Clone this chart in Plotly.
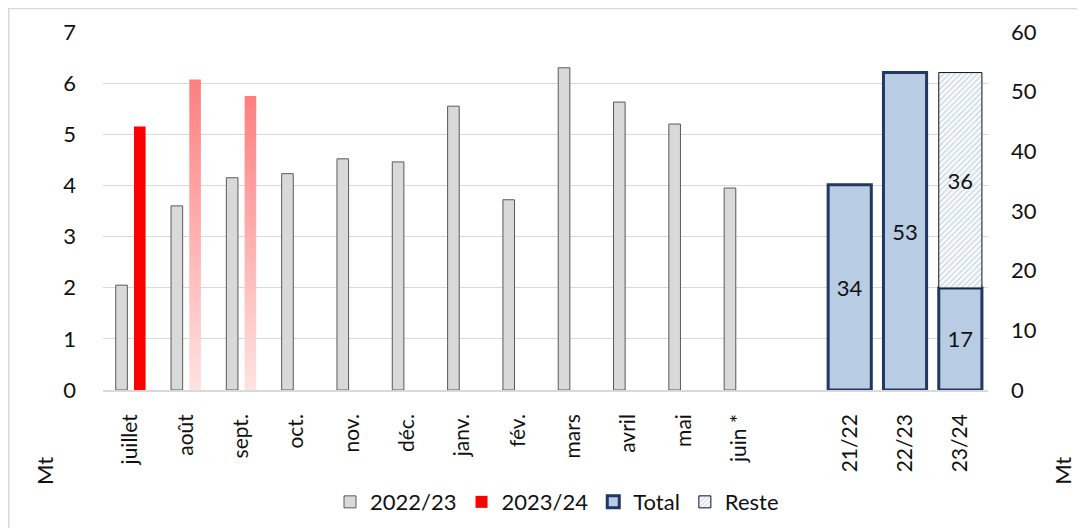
import plotly.graph_objects as go

# ---- données (Mt) ----
labels = ["juillet", "août", "sept.", "oct.", "nov.", "déc.", "janv.", "fév.",
          "mars", "avril", "mai", "juin *", "", "21/22", "22/23", "23/24"]
mois = labels[:12]
exp_2223 = [2.05, 3.6, 4.15, 4.23, 4.52, 4.46, 5.55, 3.72, 6.3, 5.63, 5.2, 3.95]
exp_2324 = [5.15, 6.07, 5.75]
campagnes = ["21/22", "22/23", "23/24"]
total = [34.4, 53.2, 17.1]
reste = [36.1]

pos = list(range(len(labels)))
pos_mois = pos[:len(mois)]
pos_camp = [labels.index(c) for c in campagnes]

W = 0.21
FONT = "Lato, 'Open Sans', sans-serif"

fig = go.Figure()

# 2022/23 (gris)
fig.add_trace(go.Bar(
    x=pos_mois, y=exp_2223, name="2022/23", width=W, offset=-0.27,
    marker=dict(color="#D9D9D9", line=dict(color="#595959", width=1)),
))

# 2023/24 : juillet plein, août/sept. en dégradé
fig.add_trace(go.Bar(
    x=pos_mois[:1], y=exp_2324[:1], name="2023/24", width=W, offset=0.06,
    marker=dict(color="#FF0000", line=dict(width=0)),
))
for i in range(1, len(exp_2324)):
    x0, x1 = pos_mois[i] + 0.06, pos_mois[i] + 0.06 + W
    v = exp_2324[i]
    fig.add_trace(go.Scatter(
        x=[x0, x0, x1, x1, x0], y=[0, v, v, 0, 0], mode="lines",
        line=dict(width=0), fill="toself",
        fillgradient=dict(type="vertical",
                          colorscale=[[0, "#FFE2E2"], [1, "#FF7F7F"]]),
        showlegend=False, hoverinfo="skip",
    ))

# Total / Reste (axe droit)
fig.add_trace(go.Bar(
    x=pos_camp, y=total, name="Total", yaxis="y2", width=0.78, offset=-0.39,
    marker=dict(color="#B8CCE4", line=dict(color="#1F3864", width=3)),
    texttemplate="%{y:.0f}", textposition="inside", insidetextanchor="middle",
    textangle=0, textfont=dict(size=22, color="#111111"),
))
fig.add_trace(go.Bar(
    x=pos_camp[-1:], y=reste, base=total[-1:], name="Reste", yaxis="y2",
    width=0.78, offset=-0.39,
    marker=dict(color="white", line=dict(color="#111111", width=1),
                pattern=dict(shape="/", fgcolor="#A9BFDD", size=4, solidity=0.5)),
    texttemplate="%{y:.0f}", textposition="inside", insidetextanchor="middle",
    textangle=0, textfont=dict(size=22, color="#111111"),
))

# la page ajoute une marge de 8 px autour du graphique
fig.update_layout(
    width=1077, height=520,
    margin=dict(l=95, r=97, t=24, b=138, autoexpand=False),
    paper_bgcolor="white", plot_bgcolor="white",
    font=dict(family=FONT, size=22, color="#111111"),
    barmode="overlay",
    xaxis=dict(range=[-0.5, len(labels) - 0.5], tickvals=pos, ticktext=labels,
               tickangle=-90, showgrid=False, zeroline=False,
               showline=True, linecolor="#D9D9D9", linewidth=1.5,
               ticks="", ticklabelstandoff=14, tickfont=dict(size=21),
               automargin=False),
    yaxis=dict(range=[0, 7], dtick=1, showgrid=True, gridcolor="#D9D9D9",
               gridwidth=1, zeroline=False, ticks="", ticklabelstandoff=26,
               automargin=False),
    yaxis2=dict(range=[0, 60], dtick=10, overlaying="y", side="right",
                showgrid=False, zeroline=False, ticks="", ticklabelstandoff=22,
                automargin=False),
    legend=dict(orientation="h", x=0.513, xanchor="center", y=-0.313,
                yanchor="middle", font=dict(size=22), traceorder="normal"),
    showlegend=True,
    annotations=[
        dict(text="Mt", xref="paper", yref="paper", x=-0.0655, y=-0.226,
             xanchor="center", yanchor="middle",
             showarrow=False, textangle=-90, font=dict(size=22)),
        dict(text="Mt", xref="paper", yref="paper", x=1.0847, y=-0.226,
             xanchor="center", yanchor="middle",
             showarrow=False, textangle=-90, font=dict(size=22)),
    ],
    shapes=[
        dict(type="rect", xref="paper", yref="paper", x0=-0.1065, x1=1.3,
             y0=-0.6, y1=1.0655, line=dict(color="#D9D9D9", width=1.5),
             layer="below"),
    ],
)

fig.write_html("out.html")
